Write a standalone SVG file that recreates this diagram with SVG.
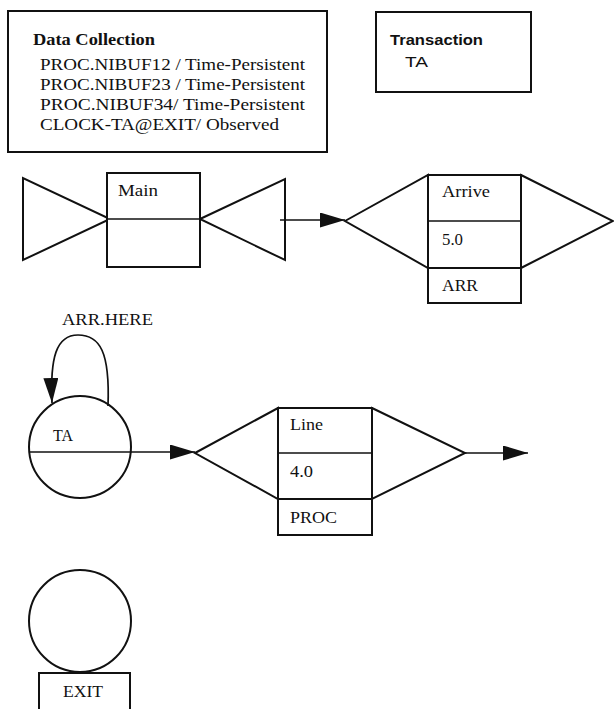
<svg xmlns="http://www.w3.org/2000/svg" width="614" height="709" viewBox="0 0 614 709">
  <style>
    .shape { fill: #ffffff; stroke: #111111; stroke-width: 2; stroke-linejoin: miter; }
    .line { fill: none; stroke: #111111; stroke-width: 1.7; }
    .wire { fill: none; stroke: #111111; stroke-width: 1.4; }
    .lbl { font-family: "Liberation Serif", "Times New Roman", serif; font-size: 16px; fill: #111111; }
    .title { font-family: "Liberation Serif", "Times New Roman", serif; font-size: 16px; font-weight: bold; fill: #111111; }
    .sans { font-family: "Liberation Sans", Arial, sans-serif; font-size: 15px; fill: #111111; }
  </style>
  <defs>
    <marker id="arrow" markerUnits="userSpaceOnUse" markerWidth="26" markerHeight="16" refX="25" refY="7.5" orient="auto">
      <path d="M0,0 L25,7.5 L0,15 z" fill="#111111"/>
    </marker>
  </defs>
  <rect width="614" height="709" fill="#ffffff"/>

  <!-- data collection panel -->
  <g id="data-collection">
    <rect class="shape" x="8" y="11" width="319" height="141"/>
    <text class="title" x="33" y="45" textLength="122" lengthAdjust="spacingAndGlyphs">Data Collection</text>
    <text class="lbl" x="40" y="70" textLength="265" lengthAdjust="spacingAndGlyphs">PROC.NIBUF12 / Time-Persistent</text>
    <text class="lbl" x="40" y="90" textLength="265" lengthAdjust="spacingAndGlyphs">PROC.NIBUF23 / Time-Persistent</text>
    <text class="lbl" x="40" y="110" textLength="265" lengthAdjust="spacingAndGlyphs">PROC.NIBUF34/  Time-Persistent</text>
    <text class="lbl" x="40" y="130" textLength="239" lengthAdjust="spacingAndGlyphs">CLOCK-TA@EXIT/ Observed</text>
  </g>

  <!-- transaction panel -->
  <g id="transaction">
    <rect class="shape" x="376" y="12" width="155" height="80"/>
    <text class="sans" x="390" y="45" font-weight="bold" textLength="93" lengthAdjust="spacingAndGlyphs">Transaction</text>
    <text class="sans" x="405" y="67" textLength="23" lengthAdjust="spacingAndGlyphs">TA</text>
  </g>

  <!-- Main block -->
  <g id="main">
    <polygon class="shape" points="23,178 23,260 110,219"/>
    <polygon class="shape" points="200,219 285,179 285,260"/>
    <rect class="shape" x="107" y="173" width="93" height="94"/>
    <line class="line" x1="107" y1="219" x2="200" y2="219"/>
    <text class="lbl" x="118" y="196" textLength="40" lengthAdjust="spacingAndGlyphs">Main</text>
  </g>

  <!-- Arrive activity -->
  <g id="arrive">
    <polygon class="shape" points="345,221 428,175 428,268"/>
    <polygon class="shape" points="521,175 613,221 521,268"/>
    <rect class="shape" x="428" y="175" width="93" height="93"/>
    <line class="line" x1="428" y1="221" x2="521" y2="221"/>
    <rect class="shape" x="428" y="268" width="93" height="35"/>
    <text class="lbl" x="442" y="197" textLength="48" lengthAdjust="spacingAndGlyphs">Arrive</text>
    <text class="lbl" x="442" y="245" textLength="21" lengthAdjust="spacingAndGlyphs">5.0</text>
    <text class="lbl" x="442" y="291" textLength="36" lengthAdjust="spacingAndGlyphs">ARR</text>
  </g>

  <!-- TA queue -->
  <g id="ta">
    <circle class="shape" cx="80" cy="447" r="51"/>
    <line class="line" x1="29" y1="452" x2="131" y2="452"/>
    <text class="lbl" x="53" y="441" textLength="20" lengthAdjust="spacingAndGlyphs">TA</text>
  </g>

  <!-- Line activity -->
  <g id="line">
    <polygon class="shape" points="195,453 278,408 278,499"/>
    <polygon class="shape" points="372,408 465,453 372,499"/>
    <rect class="shape" x="278" y="408" width="94" height="91"/>
    <line class="line" x1="278" y1="453" x2="372" y2="453"/>
    <rect class="shape" x="278" y="499" width="94" height="36"/>
    <text class="lbl" x="290" y="430" textLength="33" lengthAdjust="spacingAndGlyphs">Line</text>
    <text class="lbl" x="290" y="477" textLength="23" lengthAdjust="spacingAndGlyphs">4.0</text>
    <text class="lbl" x="290" y="523" textLength="47" lengthAdjust="spacingAndGlyphs">PROC</text>
  </g>

  <!-- EXIT sink -->
  <g id="exit">
    <circle class="shape" cx="80" cy="621" r="51"/>
    <rect class="shape" x="39" y="673" width="91" height="40"/>
    <text class="lbl" x="63" y="697" textLength="40" lengthAdjust="spacingAndGlyphs">EXIT</text>
  </g>

  <!-- connectors -->
  <g id="connectors">
    <line class="wire" x1="280" y1="220" x2="345" y2="220" marker-end="url(#arrow)"/>
    <line class="wire" x1="131" y1="452" x2="195" y2="452" marker-end="url(#arrow)"/>
    <line class="wire" x1="465" y1="453" x2="528" y2="453" marker-end="url(#arrow)"/>
    <path class="line" d="M108,406 C110,352 100,335 78,335 C56,335 50,358 52,403" marker-end="url(#arrow)"/>
    <text class="lbl" x="62" y="325" textLength="91" lengthAdjust="spacingAndGlyphs">ARR.HERE</text>
  </g>
</svg>
